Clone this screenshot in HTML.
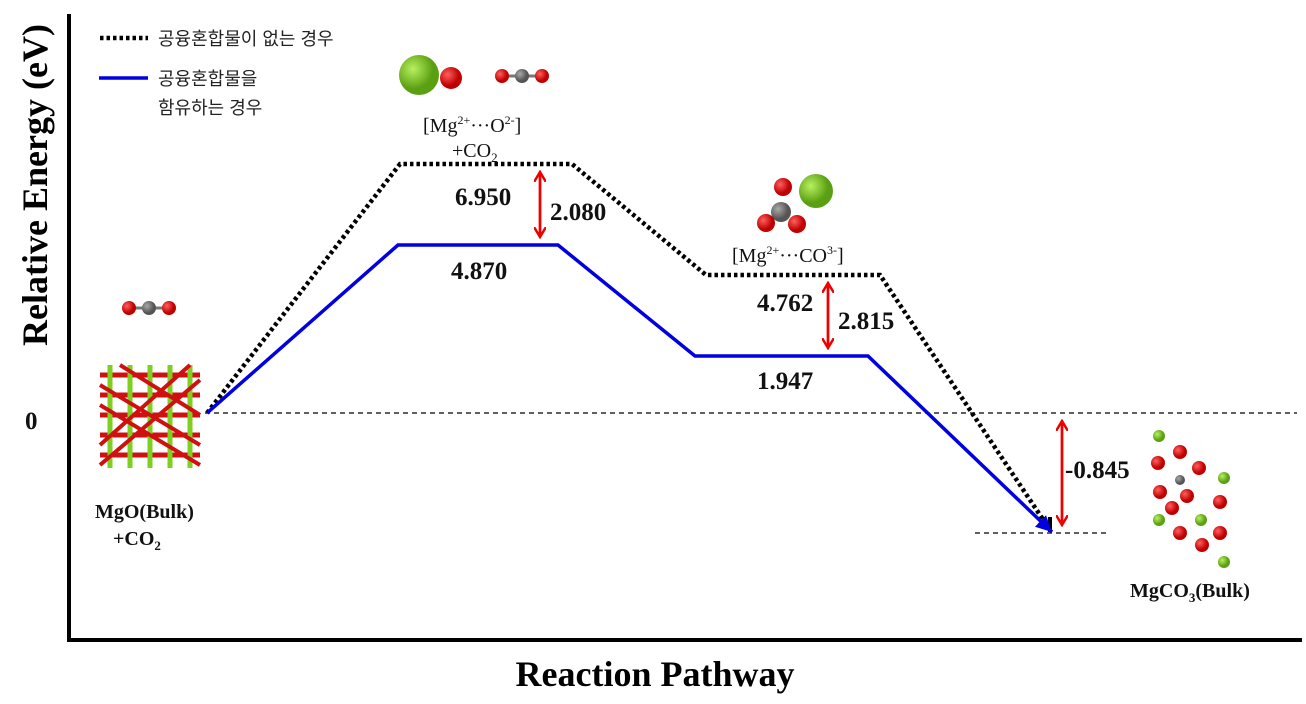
<!DOCTYPE html>
<html><head><meta charset="utf-8"><style>
body{margin:0;background:#fff}
svg{display:block}
.b{font-family:"Liberation Serif",serif;font-weight:bold;font-size:25px;fill:#111}
.n{font-family:"Liberation Serif",serif;font-size:20px;fill:#111}
.k{font-family:"Liberation Sans","Noto Sans CJK KR",sans-serif;font-size:18px;fill:#222}
</style></head><body>
<svg width="1306" height="704" viewBox="0 0 1306 704" xmlns="http://www.w3.org/2000/svg">
<defs>
<radialGradient id="g" cx="35%" cy="35%"><stop offset="0" stop-color="#b8f060"/><stop offset="1" stop-color="#5aa012"/></radialGradient>
<radialGradient id="r" cx="35%" cy="35%"><stop offset="0" stop-color="#ff6060"/><stop offset="1" stop-color="#c00000"/></radialGradient>
<radialGradient id="c" cx="35%" cy="35%"><stop offset="0" stop-color="#aaa"/><stop offset="1" stop-color="#555"/></radialGradient>
<marker id="ah" markerWidth="12" markerHeight="12" refX="9" refY="6" orient="auto" markerUnits="userSpaceOnUse"><path d="M0,0 L10,6 L0,12" fill="none" stroke="#e00" stroke-width="2.5"/></marker>
<marker id="bh" markerWidth="20" markerHeight="20" refX="16" refY="8" orient="auto" markerUnits="userSpaceOnUse"><path d="M0,0 L16,8 L0,16 Z" fill="#0000e0"/></marker>
</defs>
<line x1="69" y1="14" x2="69" y2="641" stroke="#000" stroke-width="4"/>
<line x1="67" y1="640" x2="1302" y2="640" stroke="#000" stroke-width="4"/>
<text transform="translate(47,185) rotate(-90)" text-anchor="middle" font-family="Liberation Serif,serif" font-weight="bold" font-size="36">Relative Energy (eV)</text>
<text x="655" y="686" text-anchor="middle" font-family="Liberation Serif,serif" font-weight="bold" font-size="36">Reaction Pathway</text>
<text x="25" y="429" class="b" font-size="24">0</text>
<line x1="205" y1="413" x2="1297" y2="413" stroke="#000" stroke-width="1.3" stroke-dasharray="5,4"/>
<line x1="975" y1="533" x2="1107" y2="533" stroke="#000" stroke-width="1.3" stroke-dasharray="5,4"/>
<polyline points="207,413 400,164 572,164 706,275 880,275 1050,530" fill="none" stroke="#000" stroke-width="4.5" stroke-dasharray="3.5,3"/>
<line x1="1050" y1="517" x2="1050" y2="532" stroke="#000" stroke-width="4"/>
<polyline points="207,413 398,245 558,245 695,356 868,356 1052,532" fill="none" stroke="#0000e0" stroke-width="3.5" marker-end="url(#bh)"/>
<line x1="540" y1="175" x2="540" y2="236" stroke="#e00" stroke-width="2.5" marker-end="url(#ah)"/>
<line x1="540" y1="236" x2="540" y2="173" stroke="#e00" stroke-width="2.5" marker-end="url(#ah)"/>
<line x1="828" y1="286" x2="828" y2="347" stroke="#e00" stroke-width="2.5" marker-end="url(#ah)"/>
<line x1="828" y1="347" x2="828" y2="284" stroke="#e00" stroke-width="2.5" marker-end="url(#ah)"/>
<line x1="1062" y1="424" x2="1062" y2="524" stroke="#e00" stroke-width="2.5" marker-end="url(#ah)"/>
<line x1="1062" y1="524" x2="1062" y2="422" stroke="#e00" stroke-width="2.5" marker-end="url(#ah)"/>
<text x="455" y="205" class="b">6.950</text>
<text x="550" y="220" class="b">2.080</text>
<text x="451" y="279" class="b">4.870</text>
<text x="757" y="311" class="b">4.762</text>
<text x="838" y="329" class="b">2.815</text>
<text x="757" y="389" class="b">1.947</text>
<text x="1065" y="478" class="b">-0.845</text>
<line x1="100" y1="38" x2="148" y2="38" stroke="#000" stroke-width="4.5" stroke-dasharray="3.5,3"/>
<text x="158" y="45" class="k">공융혼합물이 없는 경우</text>
<line x1="99" y1="78" x2="148" y2="78" stroke="#0000e0" stroke-width="3.5"/>
<text x="158" y="85" class="k">공융혼합물을</text>
<text x="158" y="114" class="k">함유하는 경우</text>
<text x="423" y="132" class="n">[Mg<tspan font-size="12" dy="-8">2+</tspan><tspan dy="8">···O</tspan><tspan font-size="12" dy="-8">2-</tspan><tspan dy="8">]</tspan></text>
<text x="452" y="157" class="n">+CO<tspan font-size="13" dy="5">2</tspan></text>
<text x="732" y="262" class="n">[Mg<tspan font-size="12" dy="-8">2+</tspan><tspan dy="8">···CO</tspan><tspan font-size="12" dy="-8">3-</tspan><tspan dy="8">]</tspan></text>
<text x="95" y="518" class="n" font-weight="bold">MgO(Bulk)</text>
<text x="113" y="545" class="n" font-weight="bold">+CO<tspan font-size="13" dy="5">2</tspan></text>
<text x="1130" y="597" class="n" font-weight="bold">MgCO<tspan font-size="13" dy="5">3</tspan><tspan dy="-5">(Bulk)</tspan></text>
<circle cx="419" cy="75" r="20" fill="url(#g)"/><circle cx="451" cy="78" r="11" fill="url(#r)"/>
<line x1="502" y1="76" x2="543" y2="76" stroke="#777" stroke-width="3"/>
<circle cx="502" cy="76" r="7" fill="url(#r)"/><circle cx="522" cy="76" r="7" fill="url(#c)"/><circle cx="542" cy="76" r="7" fill="url(#r)"/>
<line x1="129" y1="308" x2="170" y2="308" stroke="#777" stroke-width="3"/>
<circle cx="129" cy="308" r="7" fill="url(#r)"/><circle cx="149" cy="308" r="7" fill="url(#c)"/><circle cx="169" cy="308" r="7" fill="url(#r)"/>
<circle cx="816" cy="191" r="17" fill="url(#g)"/>
<circle cx="783" cy="187" r="9" fill="url(#r)"/><circle cx="781" cy="212" r="10" fill="url(#c)"/>
<circle cx="766" cy="223" r="9" fill="url(#r)"/><circle cx="797" cy="224" r="9" fill="url(#r)"/>
<g stroke-width="5">
<path d="M100,375 L200,375 M100,395 L200,395 M100,415 L200,415 M100,435 L200,435 M100,455 L200,455" stroke="#d01010"/>
<path d="M110,365 L110,468 M130,365 L130,468 M150,365 L150,468 M170,365 L170,468 M190,365 L190,468" stroke="#7ed020"/>
<path d="M100,385 L200,445 M100,405 L200,465 M120,365 L200,415 M100,445 L190,365 M100,465 L200,380" stroke="#d01010" stroke-width="4"/>
</g>
<g>
<circle cx="1159" cy="436" r="6" fill="url(#g)"/><circle cx="1224" cy="478" r="6" fill="url(#g)"/>
<circle cx="1159" cy="520" r="6" fill="url(#g)"/><circle cx="1201" cy="520" r="6" fill="url(#g)"/><circle cx="1224" cy="562" r="6" fill="url(#g)"/>
<circle cx="1180" cy="480" r="5" fill="url(#c)"/>
<circle cx="1180" cy="452" r="7" fill="url(#r)"/><circle cx="1158" cy="463" r="7" fill="url(#r)"/><circle cx="1199" cy="468" r="7" fill="url(#r)"/>
<circle cx="1160" cy="492" r="7" fill="url(#r)"/><circle cx="1187" cy="496" r="7" fill="url(#r)"/><circle cx="1220" cy="502" r="7" fill="url(#r)"/>
<circle cx="1172" cy="508" r="7" fill="url(#r)"/><circle cx="1180" cy="533" r="7" fill="url(#r)"/><circle cx="1220" cy="533" r="7" fill="url(#r)"/>
<circle cx="1202" cy="545" r="7" fill="url(#r)"/>
</g>
</svg>
</body></html>
